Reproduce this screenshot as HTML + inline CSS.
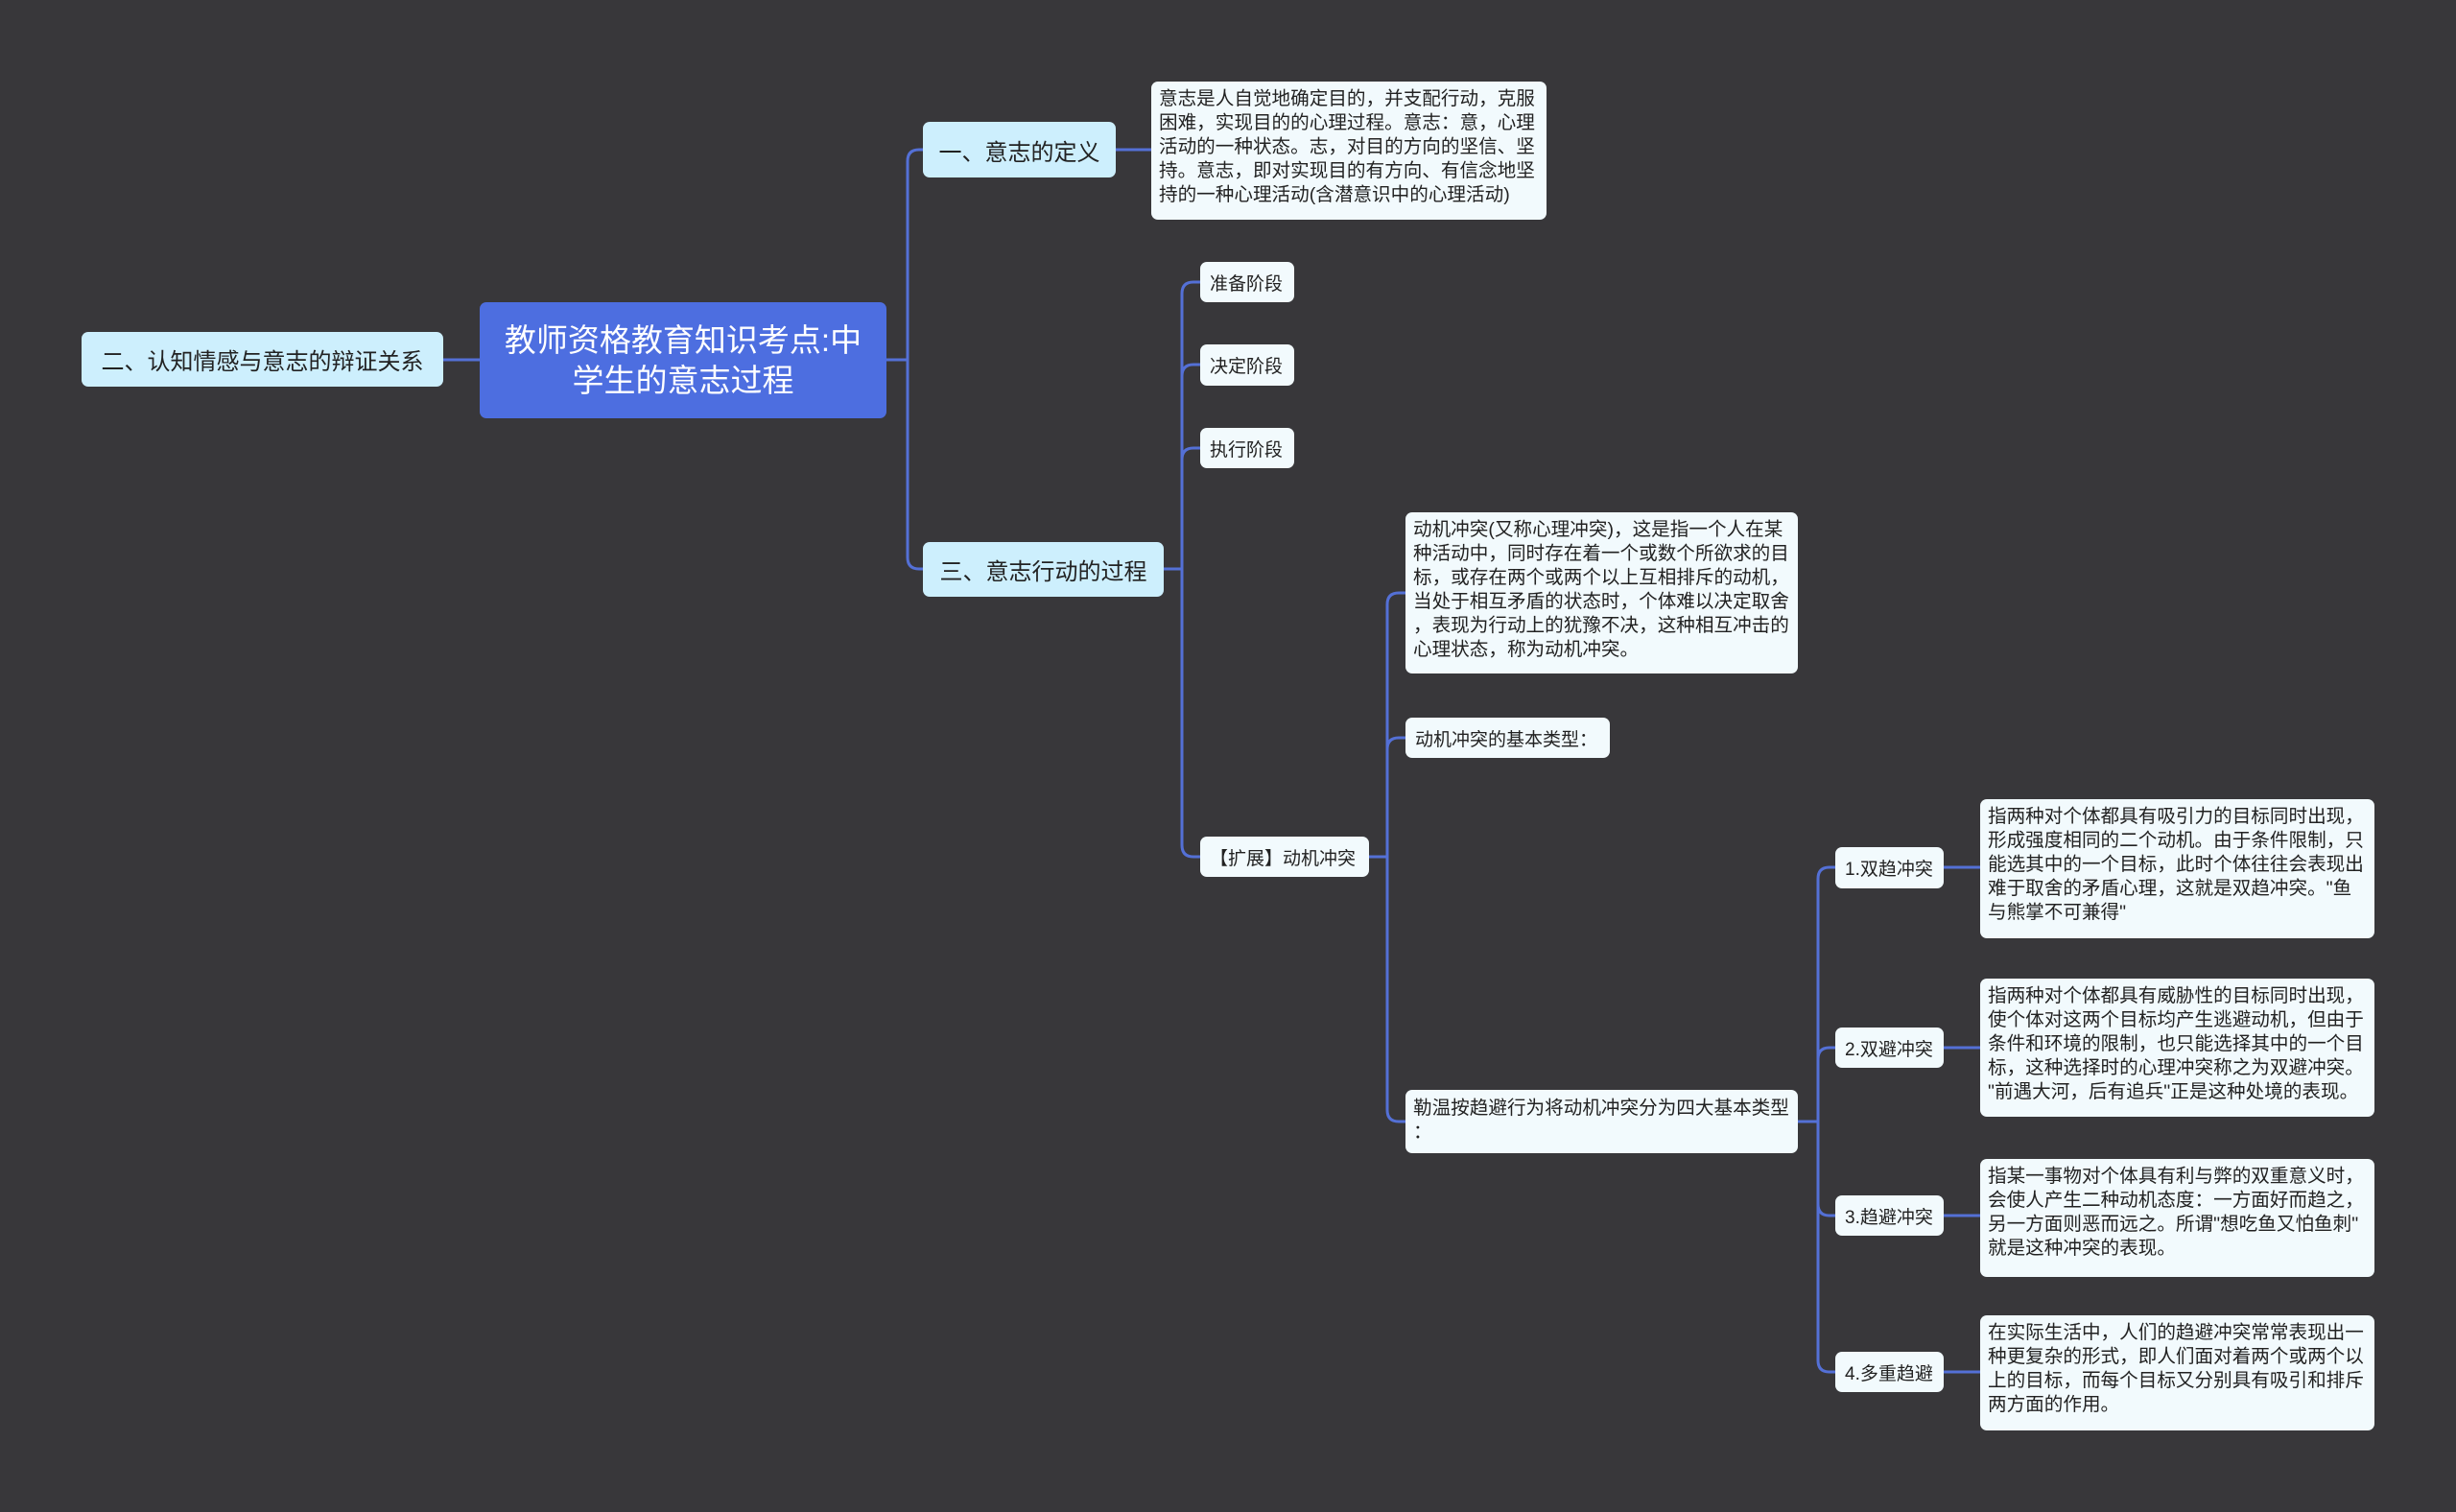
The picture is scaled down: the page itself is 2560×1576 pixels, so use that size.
<!DOCTYPE html>
<html><head><meta charset="utf-8">
<style>
html,body{margin:0;padding:0;}
body{width:2560px;height:1576px;background:#38373a;position:relative;overflow:hidden;font-family:"Liberation Sans","Noto Sans CJK SC",sans-serif;}
.n{position:absolute;box-sizing:border-box;border-radius:7px;color:#222;display:flex;align-items:center;}
.l1{background:#cdeffd;font-size:24px;padding:0 14px;justify-content:center;}
.lf{background:#f2fafd;font-size:19px;padding:0 10px;}
.tx{background:#f2fafd;font-size:19.6px;line-height:25px;padding:6px 8px;align-items:flex-start;line-break:anywhere;word-break:break-all;}
.tx span{display:block;}
svg{position:absolute;left:0;top:0;}
</style></head><body>
<svg width="2560" height="1576" fill="none" stroke="#5470d6" stroke-width="3">
<path d="M462 375 H500"/>
<path d="M924 375 H946"/>
<path d="M946 375 V168 Q946 156 958 156 H962"/>
<path d="M946 375 V581 Q946 593 958 593 H962"/>
<path d="M1163 156 H1200"/>
<path d="M1213 593 H1232"/>
<path d="M1232 593 V306 Q1232 294 1244 294 H1251"/>
<path d="M1232 593 V392 Q1232 380 1244 380 H1251"/>
<path d="M1232 593 V479 Q1232 467 1244 467 H1251"/>
<path d="M1232 593 V881 Q1232 893 1244 893 H1251"/>
<path d="M1427 893 H1446"/>
<path d="M1446 893 V630 Q1446 618 1458 618 H1465"/>
<path d="M1446 893 V781 Q1446 769 1458 769 H1465"/>
<path d="M1446 893 V1157 Q1446 1169 1458 1169 H1465"/>
<path d="M1874 1169 H1895"/>
<path d="M1895 1169 V916 Q1895 904 1907 904 H1913"/>
<path d="M1895 1169 V1104 Q1895 1092 1907 1092 H1913"/>
<path d="M1895 1169 V1255 Q1895 1267 1907 1267 H1913"/>
<path d="M1895 1169 V1418 Q1895 1430 1907 1430 H1913"/>
<path d="M2026 904 H2064"/>
<path d="M2026 1092 H2064"/>
<path d="M2026 1267 H2064"/>
<path d="M2026 1430 H2064"/>
</svg>

<div class="n" style="left:500px;top:315px;width:424px;height:121px;background:#4d6ee0;color:#fff;font-size:33px;line-height:42px;text-align:center;justify-content:center;padding:0 16px;">教师资格教育知识考点:中学生的意志过程</div>
<div class="n l1" style="left:85px;top:346px;width:377px;height:57px;">二、认知情感与意志的辩证关系</div>
<div class="n l1" style="left:962px;top:127px;width:201px;height:58px;">一、意志的定义</div>
<div class="n l1" style="left:962px;top:565px;width:251px;height:57px;">三、意志行动的过程</div>

<div class="n tx" style="left:1200px;top:85px;width:412px;height:144px;">意志是人自觉地确定目的，并支配行动，克服困难，实现目的的心理过程。意志：意，心理活动的一种状态。志，对目的方向的坚信、坚持。意志，即对实现目的有方向、有信念地坚持的一种心理活动(含潜意识中的心理活动)</div>

<div class="n lf" style="left:1251px;top:273px;width:98px;height:42px;">准备阶段</div>
<div class="n lf" style="left:1251px;top:359px;width:98px;height:43px;">决定阶段</div>
<div class="n lf" style="left:1251px;top:446px;width:98px;height:42px;">执行阶段</div>
<div class="n lf" style="left:1251px;top:872px;width:176px;height:42px;">【扩展】动机冲突</div>

<div class="n tx" style="left:1465px;top:534px;width:409px;height:168px;">动机冲突(又称心理冲突)，这是指一个人在某种活动中，同时存在着一个或数个所欲求的目标，或存在两个或两个以上互相排斥的动机，当处于相互矛盾的状态时，个体难以决定取舍，表现为行动上的犹豫不决，这种相互冲击的心理状态，称为动机冲突。</div>
<div class="n lf" style="left:1465px;top:748px;width:213px;height:42px;">动机冲突的基本类型：</div>
<div class="n tx" style="left:1465px;top:1136px;width:409px;height:66px;padding-top:7px;">勒温按趋避行为将动机冲突分为四大基本类型：</div>

<div class="n lf" style="left:1913px;top:883px;width:113px;height:43px;">1.双趋冲突</div>
<div class="n lf" style="left:1913px;top:1071px;width:113px;height:42px;">2.双避冲突</div>
<div class="n lf" style="left:1913px;top:1246px;width:113px;height:42px;">3.趋避冲突</div>
<div class="n lf" style="left:1913px;top:1409px;width:113px;height:42px;">4.多重趋避</div>

<div class="n tx" style="left:2064px;top:833px;width:411px;height:145px;">指两种对个体都具有吸引力的目标同时出现，形成强度相同的二个动机。由于条件限制，只能选其中的一个目标，此时个体往往会表现出难于取舍的矛盾心理，这就是双趋冲突。"鱼与熊掌不可兼得"</div>
<div class="n tx" style="left:2064px;top:1020px;width:411px;height:144px;">指两种对个体都具有威胁性的目标同时出现，使个体对这两个目标均产生逃避动机，但由于条件和环境的限制，也只能选择其中的一个目标，这种选择时的心理冲突称之为双避冲突。"前遇大河，后有追兵"正是这种处境的表现。</div>
<div class="n tx" style="left:2064px;top:1208px;width:411px;height:123px;">指某一事物对个体具有利与弊的双重意义时，会使人产生二种动机态度：一方面好而趋之，另一方面则恶而远之。所谓"想吃鱼又怕鱼刺"就是这种冲突的表现。</div>
<div class="n tx" style="left:2064px;top:1371px;width:411px;height:120px;">在实际生活中，人们的趋避冲突常常表现出一种更复杂的形式，即人们面对着两个或两个以上的目标，而每个目标又分别具有吸引和排斥两方面的作用。</div>
</body></html>
